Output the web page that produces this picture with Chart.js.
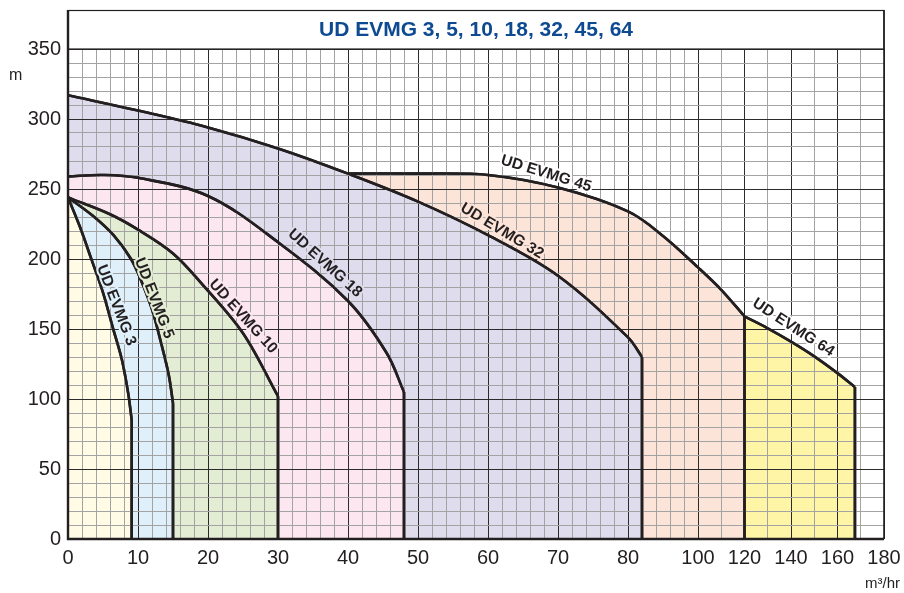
<!DOCTYPE html>
<html lang="en">
<head>
    <meta charset="UTF-8">
    <title>UD EVMG 3, 5, 10, 18, 32, 45, 64</title>
    <script src="https://cdn.jsdelivr.net/npm/chart.js"></script>
    <style>
        html, body { margin: 0; padding: 0; background: #fff; }
        #grafico { display: block; }
    </style>
</head>
<body>
    <canvas id="grafico" width="904" height="593"></canvas>

    <script>
        // pump curves, flow in m3/hr and head in m
        const pumpNames = ['UD EVMG 3', 'UD EVMG 5', 'UD EVMG 10', 'UD EVMG 18', 'UD EVMG 32', 'UD EVMG 45', 'UD EVMG 64'];

        const flow3 = [0, 1.7, 3.4, 5, 6.4, 7.7, 8.6, 9.1];
        const head3 = [244, 223, 199, 176, 151, 128, 104, 85];

        const flow5 = [0, 3.5, 6.5, 9, 10.5, 12, 13.3, 14.4, 15];
        const head5 = [244, 231, 217, 200, 184, 164, 140, 117, 97];

        const flow10 = [0, 6, 10, 15, 19, 25, 30];
        const head10 = [244, 232, 221, 204, 183, 147, 102];

        const flow18 = [0, 5, 10, 20, 30, 40, 45.5, 48];
        const head18 = [259, 260, 258, 245, 212, 170, 133, 105];

        const flow32 = [0, 10, 20, 30, 40, 50, 60, 70, 80, 84];
        const head32 = [317, 306, 294, 279, 261, 241, 217, 188, 144, 130];

        const flow45 = [40, 50, 60, 70, 80, 90, 100, 110, 120];
        const head45 = [261, 261, 260, 251, 234, 216.5, 194, 178, 159];

        const flow64 = [120, 130, 140, 150, 160, 167.5];
        const head64 = [159, 150.5, 141, 130.5, 118.5, 108.5];

        // where the curve names sit (flow, head) and their slant
        const labelFlow = [6.9, 12.3, 25, 36.7, 62, 68.3, 141];
        const labelHead = [167, 172, 159, 197, 220, 261, 151];
        const labelAngle = [69, 69, 48, 42, 31, 17, 33];

        // tick labels
        const xTickLabels = [0, 10, 20, 30, 40, 50, 60, 70, 80, 100, 120, 140, 160, 180];
        const yTickLabels = [0, 50, 100, 150, 200, 250, 300, 350];

        const cores = ['#fffbe4', '#dff0fb', '#e3edd4', '#fce6ef', '#dedced', '#fde4d9', '#fff5a6'];
        const halos = ['#dff0fb', '#e3edd4', '#fce6ef', '#dedced', '#fde4d9', '#ffffff', '#ffffff'];
        const fonte = "'Liberation Sans', Arial, Helvetica, sans-serif";

        // the flow axis is not even: 0-80 by 10, 80-100 squeezed, 100-180 by 20
        function posFlow(v) {
            if (v <= 80) return v / 10;
            if (v <= 100) return 8 + (v - 80) / 20;
            return 9 + (v - 100) / 20 * (46.5 / 70);
        }
        function flowDaPos(p) {
            if (p <= 8) return p * 10;
            if (p <= 9) return 80 + (p - 8) * 20;
            return 100 + (p - 9) / (46.5 / 70) * 20;
        }

        class FlowScale extends Chart.LinearScale {
            buildTicks() {
                const ticks = [];
                for (let v = 0; v < 80; v += 2) ticks.push({ value: v });
                for (let v = 80; v < 100; v += 4) ticks.push({ value: v });
                for (let v = 100; v <= 180; v += 10) ticks.push({ value: v });
                return ticks;
            }
            getPixelForValue(value) {
                return this.getPixelForDecimal(posFlow(value) / posFlow(this.max));
            }
            getValueForPixel(pixel) {
                return flowDaPos(this.getDecimalForPixel(pixel) * posFlow(this.max));
            }
        }
        FlowScale.id = 'flow';
        FlowScale.defaults = {};
        Chart.register(FlowScale);

        function pontos(xs, ys) {
            return xs.map((x, i) => ({ x: x, y: ys[i] }));
        }

        const curvas = [
            [flow3, head3], [flow5, head5], [flow10, head10], [flow18, head18],
            [flow32, head32], [flow45, head45], [flow64, head64]
        ];

        const datasets = [];
        // vertical drops at the end of each curve
        curvas.forEach(([xs, ys], i) => {
            const n = xs.length - 1;
            datasets.push({
                label: pumpNames[i] + ' end',
                data: [{ x: xs[n], y: ys[n] }, { x: xs[n], y: 0 }],
                borderColor: '#231f20',
                borderWidth: 2.6,
                pointRadius: 0,
                fill: false,
                tension: 0
            });
        });
        // the curves with their shaded areas
        curvas.forEach(([xs, ys], i) => {
            datasets.push({
                label: pumpNames[i],
                data: pontos(xs, ys),
                borderColor: '#231f20',
                borderWidth: 2.6,
                backgroundColor: cores[i],
                pointRadius: 0,
                fill: 'origin',
                tension: 0.35
            });
        });

        const gridOnTop = {
            id: 'gridOnTop',
            afterDraw(chart) {
                const ctx = chart.ctx;
                const a = chart.chartArea;

                // curves again, above the grid
                ctx.save();
                ctx.beginPath();
                ctx.rect(a.left, a.top, a.right - a.left, a.bottom - a.top);
                ctx.clip();
                chart.data.datasets.forEach((ds, i) => {
                    chart.getDatasetMeta(i).controller.draw();
                });
                ctx.restore();

                // curve names
                const x = chart.scales.x, y = chart.scales.y;
                ctx.save();
                ctx.font = 'bold 15.5px ' + fonte;
                ctx.textAlign = 'center';
                ctx.textBaseline = 'middle';
                ctx.lineJoin = 'round';
                pumpNames.forEach((nome, i) => {
                    ctx.save();
                    ctx.translate(x.getPixelForValue(labelFlow[i]), y.getPixelForValue(labelHead[i]));
                    ctx.rotate(labelAngle[i] * Math.PI / 180);
                    ctx.strokeStyle = halos[i];
                    ctx.lineWidth = 4;
                    ctx.strokeText(nome, 0, 0);
                    ctx.fillStyle = '#231f20';
                    ctx.fillText(nome, 0, 0);
                    ctx.restore();
                });
                ctx.restore();

                // frame and title box
                ctx.save();
                ctx.strokeStyle = '#231f20';
                ctx.lineWidth = 1.2;
                ctx.strokeRect(a.left, 10.5, a.right - a.left, a.top - 10.5);
                ctx.lineWidth = 2.4;
                ctx.beginPath();
                ctx.moveTo(a.left, 10);
                ctx.lineTo(a.left, a.bottom);
                ctx.lineTo(a.right, a.bottom);
                ctx.stroke();
                ctx.lineWidth = 1.6;
                ctx.beginPath();
                ctx.moveTo(a.right, 10);
                ctx.lineTo(a.right, a.bottom);
                ctx.stroke();

                ctx.fillStyle = '#0e4a92';
                ctx.font = 'bold 21px ' + fonte;
                ctx.textAlign = 'center';
                ctx.textBaseline = 'middle';
                ctx.fillText('UD EVMG 3, 5, 10, 18, 32, 45, 64', (a.left + a.right) / 2, 30);

                ctx.fillStyle = '#231f20';
                ctx.font = '16px ' + fonte;
                ctx.textAlign = 'left';
                ctx.fillText('m', 9, 76);
                ctx.font = '15px ' + fonte;
                ctx.textAlign = 'right';
                ctx.fillText('m³/hr', 900, 584);
                ctx.restore();
            }
        };

        function semPadding(scale) {
            scale.paddingLeft = 0;
            scale.paddingRight = 0;
            scale.paddingTop = 0;
            scale.paddingBottom = 0;
        }

        const configuracoes = {
            type: 'line',
            data: { datasets: datasets },
            options: {
                responsive: false,
                devicePixelRatio: 1,
                animation: false,
                events: [],
                layout: { padding: { top: 49, right: 20, bottom: 0, left: 0 } },
                plugins: {
                    legend: { display: false },
                    tooltip: { enabled: false },
                    title: { display: false }
                },
                scales: {
                    x: {
                        type: 'flow',
                        min: 0,
                        max: 180,
                        afterFit(scale) { scale.height = 54; semPadding(scale); },
                        border: { display: false },
                        grid: {
                            z: 1,
                            drawTicks: false,
                            lineWidth: 1,
                            color: (c) => xTickLabels.includes(c.tick && c.tick.value) ? '#2b2b2b' : '#a3a3a3'
                        },
                        ticks: {
                            autoSkip: false,
                            maxRotation: 0,
                            padding: 7,
                            color: '#231f20',
                            font: { family: fonte, size: 20 },
                            callback: (v) => xTickLabels.includes(v) ? String(v) : ''
                        }
                    },
                    y: {
                        type: 'linear',
                        min: 0,
                        max: 350,
                        afterFit(scale) { scale.width = 68; semPadding(scale); },
                        border: { display: false },
                        grid: {
                            z: 1,
                            drawTicks: false,
                            lineWidth: 1,
                            color: (c) => yTickLabels.includes(c.tick && c.tick.value) ? '#2b2b2b' : '#a3a3a3'
                        },
                        ticks: {
                            stepSize: 10,
                            autoSkip: false,
                            padding: 7,
                            color: '#231f20',
                            font: { family: fonte, size: 20 },
                            callback: (v) => yTickLabels.includes(v) ? String(v) : ''
                        }
                    }
                }
            },
            plugins: [gridOnTop]
        };

        const graficoCtx = document.getElementById('grafico').getContext('2d');
        const meuGrafico = new Chart(graficoCtx, configuracoes);
    </script>
</body>
</html>
